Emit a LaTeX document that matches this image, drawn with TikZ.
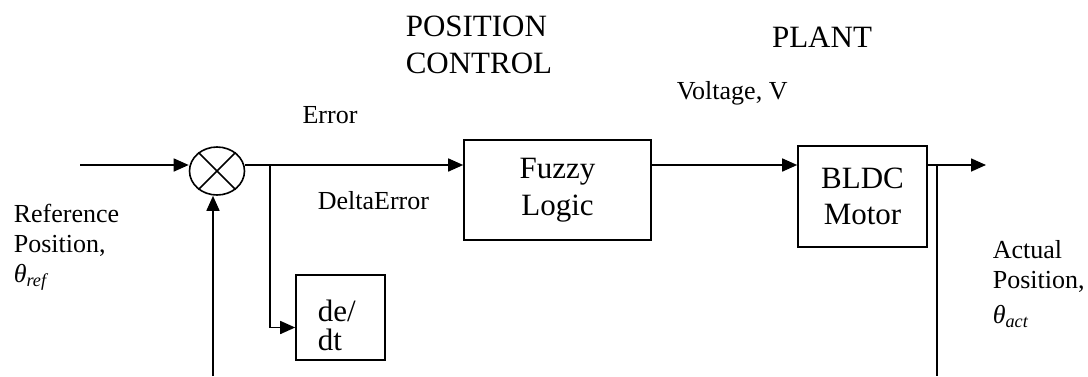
\documentclass[tikz,border=0pt]{standalone}
\usepackage{fontspec}
\setmainfont{Liberation Serif}
\usetikzlibrary{arrows.meta, shapes.geometric, positioning}
\tikzset{>={Triangle[length=15pt, width=13pt]},
  blk/.style={draw, rectangle, inner sep=0pt, align=center, font=\fontsize{31}{36.5}\selectfont},
  sum/.style={draw, ellipse, inner sep=0pt, minimum width=55pt, minimum height=48pt},
  big/.style={inner sep=0pt, align=left, font=\fontsize{31}{36.5}\selectfont},
  lbl/.style={inner sep=0pt, align=left, font=\fontsize{26}{30}\selectfont}}
\newcommand{\ang}[1]{{\itshape θ}\textsubscript{\itshape #1}}

\begin{document}
\begin{tikzpicture}[x=1pt, y=-1pt, line width=1.6pt]
    \useasboundingbox (0,0) rectangle (1088,376);

    \node[sum] (sum) at (217,171) {};
    \draw (sum.45) -- (sum.225) (sum.135) -- (sum.315);
    \node[blk, minimum width=187pt, minimum height=100pt] (fuzzy) at (557.5,190) {Fuzzy\\Logic};
    \node[blk, minimum width=129pt, minimum height=101pt] (bldc) at (862.5,196.5) {BLDC\\Motor};
    \node[draw, inner sep=0pt, minimum width=89pt, minimum height=85pt] (ddt) at (340.5,317.5) {};
    \begin{scope}
        \clip (ddt.north west) rectangle ([yshift=10pt]ddt.south east);
        \node[big, anchor=north west, font=\fontsize{31}{29}\selectfont] (ddttxt) at (317,299) {de/\\dt};
    \end{scope}

    \coordinate (in) at (80,165);
    \coordinate (br) at (270,165);
    \coordinate (tap) at (937,165);
    \coordinate (out) at (986,165);
    \coordinate (fbin) at (213,376);
    \coordinate (fbout) at (937,376);

    \draw[->] (in) -- (sum.west |- in);
    \draw[->] (sum.east |- in) -- (fuzzy.west |- in);
    \draw[->] (br) |- ([yshift=-10pt]ddt.west);
    \draw[->] (fuzzy.east |- in) -- (bldc.west |- in);
    \draw[->] (bldc.east |- in) -- (out);
    \draw (tap) -- (fbout);
    \draw[->] (fbin) -- (fbin |- sum.south);

    \node[big, anchor=west] (ctrl) at (405,45) {POSITION\\CONTROL};
    \node[big, anchor=base] (plant) at (822,47) {PLANT};
    \node[lbl, anchor=base] (err) at (330,123) {Error};
    \node[lbl, anchor=base west] (derr) at (317,209) {DeltaError};
    \node[lbl, anchor=base west] (volt) at (676,99) {Voltage, V};
    \node[lbl, anchor=north west] (ref) at (13,203) {Reference\\Position,\\\ang{ref}};
    \node[lbl, anchor=north west] (act) at (992,240) {Actual\\Position,\\[5pt]\ang{act}};
\end{tikzpicture}
\end{document}
